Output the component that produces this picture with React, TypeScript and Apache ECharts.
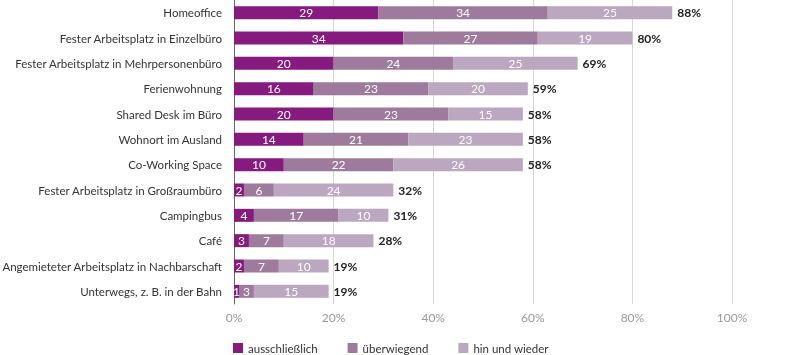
import React, { useEffect, useRef } from "react";
import * as echarts from "echarts";

const categories = [
  "Homeoffice",
  "Fester Arbeitsplatz in Einzelbüro",
  "Fester Arbeitsplatz in Mehrpersonenbüro",
  "Ferienwohnung",
  "Shared Desk im Büro",
  "Wohnort im Ausland",
  "Co-Working Space",
  "Fester Arbeitsplatz in Großraumbüro",
  "Campingbus",
  "Café",
  "Angemieteter Arbeitsplatz in Nachbarschaft",
  "Unterwegs, z. B. in der Bahn",
];
const ausschliesslich = [29, 34, 20, 16, 20, 14, 10, 2, 4, 3, 2, 1];
const ueberwiegend = [34, 27, 24, 23, 23, 21, 22, 6, 17, 7, 7, 3];
const hinUndWieder = [25, 19, 25, 20, 15, 23, 26, 24, 10, 18, 10, 15];
const totals = [88, 80, 69, 59, 58, 58, 58, 32, 31, 28, 19, 19];
const seriesNames = ["ausschließlich", "überwiegend", "hin und wieder"];
const colors = ["#861a7f", "#9e7a9c", "#bba7bf"];
const xTicks = { min: 0, max: 100, interval: 20 };

const FONT = "Lato";

export default function App() {
  const ref = useRef<HTMLDivElement>(null);
  useEffect(() => {
    if (!ref.current) return;
    const chart = echarts.init(ref.current, null, { renderer: "svg" });
    const segLabel = {
      show: true,
      position: "inside",
      color: "#ffffff",
      fontFamily: FONT,
      fontSize: 12,
    };
    const mk = (name: string, data: number[], color: string) => ({
      name,
      type: "bar",
      stack: "s",
      data,
      barWidth: 13,
      itemStyle: { color },
      label: segLabel,
      emphasis: { disabled: true },
    });
    chart.setOption({
      animation: false,
      textStyle: { fontFamily: FONT },
      grid: {
        left: 234,
        right: 68,
        top: 0,
        bottom: 51,
        containLabel: false,
        outerBoundsMode: "none",
      },
      legend: {
        data: seriesNames,
        left: 233,
        top: 342,
        padding: 0,
        itemWidth: 10,
        itemHeight: 10,
        itemGap: 30,
        icon: "rect",
        textStyle: { fontFamily: FONT, fontSize: 11.5, color: "#333" },
        selectedMode: false,
      },
      xAxis: {
        type: "value",
        min: xTicks.min,
        max: xTicks.max,
        interval: xTicks.interval,
        axisLabel: {
          formatter: "{value}%",
          color: "#999",
          fontFamily: FONT,
          fontSize: 12,
          margin: 7,
        },
        axisLine: { show: false },
        axisTick: { show: false },
        splitLine: { lineStyle: { color: "#d6d6d6", width: 1 } },
      },
      yAxis: {
        type: "category",
        data: categories,
        inverse: true,
        axisTick: { show: false },
        axisLine: { show: true, lineStyle: { color: "#666", width: 1 } },
        axisLabel: {
          color: "#333",
          fontFamily: FONT,
          fontSize: 11.5,
          margin: 12,
        },
      },
      series: [
        mk(seriesNames[0], ausschliesslich, colors[0]),
        mk(seriesNames[1], ueberwiegend, colors[1]),
        mk(seriesNames[2], hinUndWieder, colors[2]),
        {
          name: "total",
          type: "bar",
          stack: "s",
          data: totals.map(() => 0),
          barWidth: 13,
          itemStyle: { color: "transparent" },
          label: {
            show: true,
            position: "right",
            distance: 5,
            formatter: (p: any) => totals[p.dataIndex] + "%",
            color: "#222",
            fontWeight: "bold",
            fontFamily: FONT,
            fontSize: 12,
          },
          emphasis: { disabled: true },
        },
      ],
    });
    return () => chart.dispose();
  }, []);
  return (
    <div
      ref={ref}
      style={{ position: "fixed", left: 0, top: 0, width: 800, height: 355 }}
    />
  );
}
